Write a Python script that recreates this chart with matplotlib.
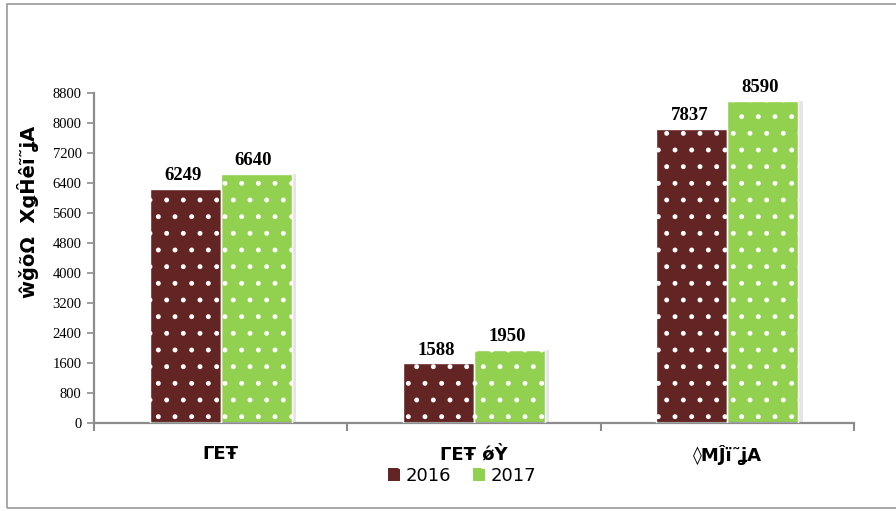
import numpy as np
import matplotlib.pyplot as plt
from matplotlib.patches import Rectangle

# data
categories = ['ΓΕŦ', 'ΓΕŦ ǿỲ', '◊ΜĴï˜ʝΑ']
years = ['2016', '2017']
values_2016 = [6249, 1588, 7837]
values_2017 = [6640, 1950, 8590]
y_ticks = list(range(0, 8801, 800))
y_label = 'ŵǧõΩ  ΧǥĤêĩ˜ʝΑ'

c2016 = '#632523'
c2017 = '#92d050'
axis_gray = '#8c8c8c'

plt.rcParams['hatch.linewidth'] = 1.1

fig = plt.figure(figsize=(8.96, 5.11), dpi=100)
ax = fig.add_axes([94 / 896, 1 - 423 / 511, (854 - 94) / 896, (423 - 93) / 511])

# outer chart frame
fig.patches.append(Rectangle((7 / 896, 3 / 511), 1.0, 1 - 7 / 511,
                             transform=fig.transFigure, fill=False,
                             edgecolor='#999999', linewidth=1.2, zorder=0))

x = np.arange(len(categories))
width = 0.28
offs = [-width / 2, width / 2]

for vals, off, col in zip([values_2016, values_2017], offs, [c2016, c2017]):
    # soft shadow behind bars
    ax.bar(x + off + 0.012, vals, width + 0.012, color='#d4d4d4', alpha=0.6,
           linewidth=0, zorder=1)
    ax.bar(x + off, vals, width, color=col, edgecolor='white', hatch='.',
           linewidth=0, zorder=2)
    ax.bar(x + off, vals, width, fill=False, edgecolor='white',
           linewidth=1.0, zorder=3)
    for xi, v in zip(x + off, vals):
        ax.text(xi - 0.01, v + 130, f'{v}', ha='center', va='bottom',
                fontsize=13.5, fontweight='bold', family='Liberation Serif',
                zorder=4)

ax.set_xlim(-0.5, 2.5)
ax.set_ylim(0, 8800)
ax.set_yticks(y_ticks)
ax.set_yticklabels([str(t) for t in y_ticks], family='Liberation Serif', fontsize=10.5)
ax.set_xticks(x)
ax.set_xticklabels(categories, fontsize=13, fontweight='bold')
ax.set_xticks([-0.5, 0.5, 1.5, 2.5], minor=True)
ax.tick_params(axis='x', which='major', length=0, pad=16)
ax.tick_params(axis='x', which='minor', length=6, width=1.5, color=axis_gray, direction='out')
ax.tick_params(axis='y', length=5, width=1.2, color=axis_gray, direction='out', pad=4)

for side in ['top', 'right']:
    ax.spines[side].set_visible(False)
for side in ['left', 'bottom']:
    ax.spines[side].set_color(axis_gray)
    ax.spines[side].set_linewidth(1.6)

fig.text(28 / 896, 1 - 212 / 511, y_label, rotation=90, ha='center', va='center',
         fontsize=14, fontweight='bold')

handles = [Rectangle((0, 0), 1, 1, facecolor=c, edgecolor='white', hatch='.', linewidth=0)
           for c in [c2016, c2017]]
fig.legend(handles, years, loc='center', bbox_to_anchor=(462 / 896, 1 - 476 / 511),
           ncol=2, frameon=False, fontsize=13, handlelength=0.7, handleheight=0.7,
           handletextpad=0.3, columnspacing=1.2)

fig.savefig('out.png', dpi=100)
